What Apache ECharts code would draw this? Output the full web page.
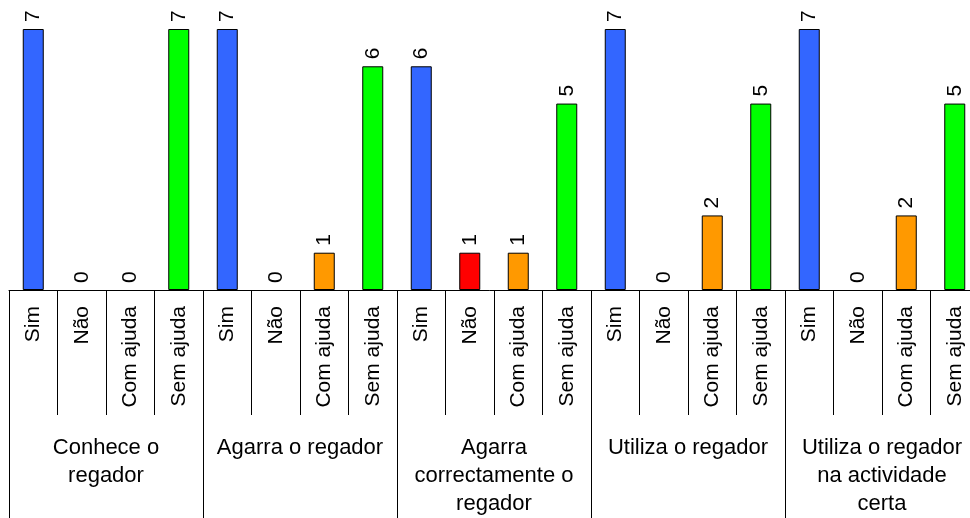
<!DOCTYPE html>
<html>
<head>
<meta charset="utf-8">
<script src="https://cdn.jsdelivr.net/npm/echarts@6/dist/echarts.min.js"></script>
<style>
  html, body { margin: 0; padding: 0; background: #fff; }
  #chart { width: 970px; height: 518px; }
</style>
</head>
<body>
<div id="chart"></div>
<script>
  // subcategorias e grupos
  var subCategories = ['Sim', 'Não', 'Com ajuda', 'Sem ajuda'];
  var groups = [
    'Conhece o\nregador',
    'Agarra o regador',
    'Agarra\ncorrectamente o\nregador',
    'Utiliza o regador',
    'Utiliza o regador\nna actividade\ncerta'
  ];

  // valores por subcategoria (um por grupo)
  var simValues = [7, 7, 6, 7, 7];
  var naoValues = [0, 0, 1, 0, 0];
  var comAjudaValues = [0, 1, 1, 2, 2];
  var semAjudaValues = [7, 6, 5, 5, 5];

  var barColors = ['#3366ff', '#ff0000', '#ff9900', '#00ff00'];

  var seriesValues = [simValues, naoValues, comAjudaValues, semAjudaValues];
  var xLabels = [];
  var barData = [];
  groups.forEach(function (g, gi) {
    subCategories.forEach(function (s, si) {
      var v = seriesValues[si][gi];
      xLabels.push(s);
      barData.push({
        value: v,
        // barras a zero nao desenham contorno
        itemStyle: { color: barColors[si], borderWidth: v === 0 ? 0 : 1 }
      });
    });
  });

  var fontFamily = '"Liberation Sans", Arial, sans-serif';
  var myChart = echarts.init(document.getElementById('chart'));

  var option = {
    animation: false,
    grid: {
      left: 9,
      top: 29,
      width: 970,
      height: 261,
      outerBoundsMode: 'none'
    },
    xAxis: [
      {
        type: 'category',
        data: xLabels,
        position: 'bottom',
        axisLine: { show: true, lineStyle: { color: '#000', width: 1 } },
        axisTick: { show: true, length: 125, lineStyle: { color: '#000', width: 1 } },
        axisLabel: {
          rotate: 90,
          margin: 16,
          interval: 0,
          color: '#000',
          fontSize: 21,
          fontFamily: fontFamily
        }
      },
      {
        type: 'category',
        data: groups,
        position: 'bottom',
        axisLine: { show: false },
        axisTick: { show: true, length: 228, lineStyle: { color: '#000', width: 1 } },
        axisLabel: {
          interval: 0,
          margin: 144,
          verticalAlign: 'top',
          lineHeight: 28,
          color: '#000',
          fontSize: 22,
          fontFamily: fontFamily
        }
      }
    ],
    yAxis: {
      type: 'value',
      min: 0,
      max: 7,
      show: false
    },
    series: [
      {
        type: 'bar',
        xAxisIndex: 0,
        data: barData,
        barWidth: 21,
        itemStyle: { borderColor: '#000', borderWidth: 1 },
        label: {
          show: true,
          position: 'top',
          rotate: 90,
          align: 'left',
          verticalAlign: 'middle',
          distance: 7,
          color: '#000',
          fontSize: 21,
          fontFamily: fontFamily
        }
      }
    ]
  };

  myChart.setOption(option);
</script>
</body>
</html>
